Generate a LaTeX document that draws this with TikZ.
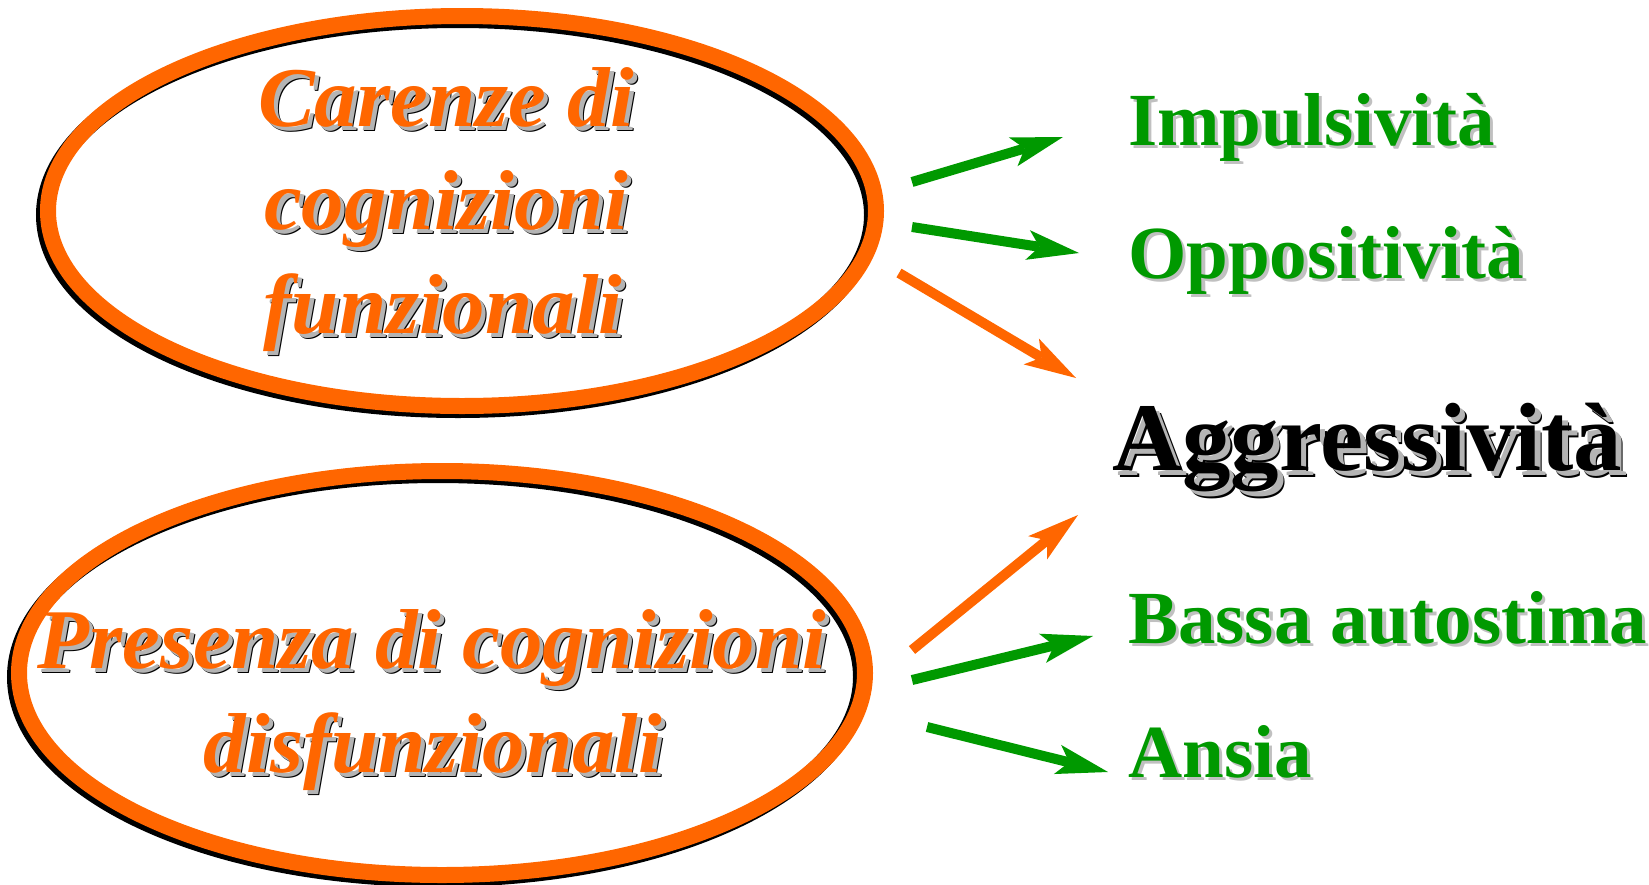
\documentclass[tikz,border=0pt]{standalone}
\usepackage{fontspec}
\newfontfamily\tnr{Liberation Serif}
\usetikzlibrary{arrows.meta,calc}
\definecolor{myorange}{HTML}{FF6600}
\definecolor{mygreen}{HTML}{009900}
\definecolor{shgray}{HTML}{B4B4B4}
\definecolor{lgray}{HTML}{C0C0C0}
% orange italic line with gray/black shadow
\newcommand\otextline[3]{%
  \node[otxt,text=black] (#1b) at ($(#2)+(5,5)$) {#3};
  \node[otxt,text=shgray] (#1s) at ($(#2)+(4,4)$) {#3};
  \node[otxt,text=myorange] (#1) at (#2) {#3};}
\newcommand\gtextline[3]{%
  \node[gtxt,text=lgray] (#1s) at ($(#2)+(3.5,3.5)$) {#3};
  \node[gtxt,text=mygreen] (#1) at (#2) {#3};}
\begin{document}
\begin{tikzpicture}[x=1pt,y=-1pt,
  ring/.style={line width=16pt, draw=myorange},
  ringshadow/.style={line width=16pt, draw=black},
  otxt/.style={inner sep=0pt, anchor=base, font=\tnr\bfseries\itshape\fontsize{85}{100}\selectfont},
  gtxt/.style={inner sep=0pt, anchor=base west, font=\tnr\bfseries\fontsize{75}{90}\selectfont},
  ktxt/.style={inner sep=0pt, anchor=base west, font=\tnr\bfseries\fontsize{97}{110}\selectfont},
  tipstyle/.style={-{Stealth[length=52pt,width=30pt,inset=12pt,line width=0pt]}},
  garrow/.style={draw=mygreen, line width=10pt, tipstyle},
  oarrow/.style={draw=myorange, line width=10pt, tipstyle}]
\useasboundingbox (0,0) rectangle (1649,884);

% ellipses
\coordinate (e1) at (462,211);
\coordinate (e2) at (442,673);
\draw[ringshadow] ([shift={(-4,4)}]e1) ellipse [x radius=414, y radius=195];
\draw[ring] (e1) ellipse [x radius=414, y radius=195];
\draw[ringshadow] ([shift={(-4,4)}]e2) ellipse [x radius=423, y radius=202];
\draw[ring] (e2) ellipse [x radius=423, y radius=202];

% ellipse texts
\otextline{c1}{446,126}{Carenze di}
\otextline{c2}{446,229}{cognizioni}
\otextline{c3}{443,333}{funzionali}
\otextline{p1}{432,668}{Presenza di cognizioni}
\otextline{p2}{433,772}{disfunzionali}

% right texts
\gtextline{imp}{1128,145}{Impulsività}
\gtextline{opp}{1128,278}{Oppositività}
\gtextline{bas}{1128,643}{Bassa autostima}
\gtextline{ans}{1128,777}{Ansia}
\node[ktxt,text=black] (aggb) at (1119,477) {Aggressività};
\node[ktxt,text=shgray] (aggs) at (1117.5,475.5) {Aggressività};
\node[ktxt,text=black] (agg) at (1112,470) {Aggressività};

% arrow end points
\coordinate (t1) at (912,182);  \coordinate (h1) at (1063,137);
\coordinate (t2) at (912,227);  \coordinate (h2) at (1079,253);
\coordinate (t3) at (899,273);  \coordinate (h3) at (1076,378);
\coordinate (t4) at (912,650);  \coordinate (h4) at (1078,515);
\coordinate (t5) at (912,680);  \coordinate (h5) at (1093,636);
\coordinate (t6) at (927,727);  \coordinate (h6) at (1108,772);

\draw[garrow] (t1) -- (h1);
\draw[garrow] (t2) -- (h2);
\draw[oarrow] (t3) -- (h3);
\draw[oarrow] (t4) -- (h4);
\draw[garrow] (t5) -- (h5);
\draw[garrow] (t6) -- (h6);
\end{tikzpicture}
\end{document}
